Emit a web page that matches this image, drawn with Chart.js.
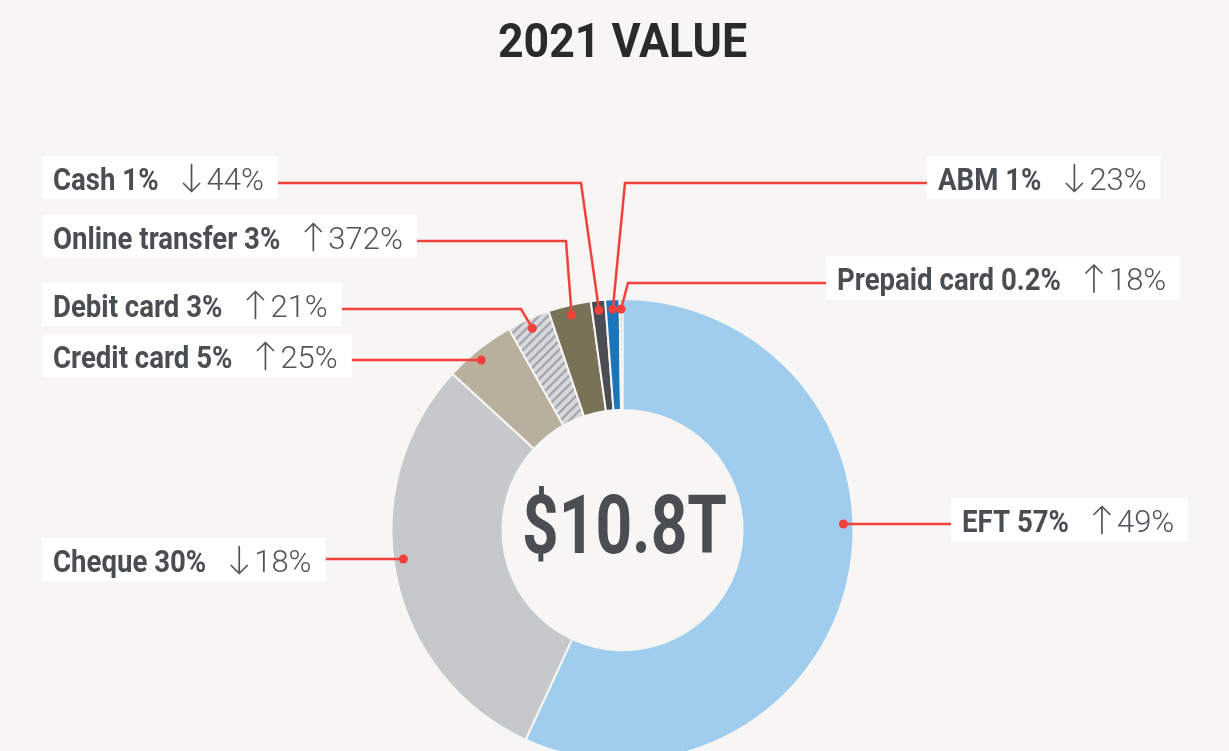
<!DOCTYPE html>
<html>
<head>
<meta charset="utf-8">
<script src="https://cdn.jsdelivr.net/npm/chart.js@4.4.1/dist/chart.umd.min.js"></script>
<style>
html, body { margin: 0; padding: 0; width: 1229px; height: 751px; overflow: hidden; background: #f7f6f4; }
#wrap { width: 1229px; height: 800px; }
</style>
</head>
<body>
<div id="wrap"><canvas id="valueChart" width="1229" height="800"></canvas></div>
<script>
// 2021 value share by payment type, and change vs previous period
const categories = ['EFT', 'Cheque', 'Credit card', 'Debit card', 'Online transfer', 'Cash', 'ABM', 'Prepaid card'];
const shares = [57, 30, 5, 3, 3, 1, 1, 0.2];
const changes = [49, -18, 25, 21, 372, -44, -23, 18];
const totalLabel = '$10.8T';
const titleText = '2021 VALUE';

const BG = '#f7f6f4';
const TEXT = '#4a4d52';
const RED = '#f2413a';

// where each callout box sits (textX = start of text, boxY = box middle, lineY = leader line)
const labelLayout = [
    { side: 'right', textX: 962, boxY: 519.5, lineY: 524 },
    { side: 'left', textX: 53, boxY: 559.5, lineY: 559 },
    { side: 'left', textX: 53, boxY: 355.5, lineY: 360 },
    { side: 'left', textX: 53, boxY: 304.5, lineY: 309, elbowX: 521 },
    { side: 'left', textX: 53, boxY: 236.5, lineY: 241, elbowX: 566 },
    { side: 'left', textX: 53, boxY: 177.5, lineY: 183, elbowX: 581 },
    { side: 'right', textX: 938, boxY: 177.5, lineY: 183, elbowX: 625 },
    { side: 'right', textX: 837, boxY: 278, lineY: 283, elbowX: 628 }
];

function stripePattern() {
    const c = document.createElement('canvas');
    c.width = 9; c.height = 9;
    const g = c.getContext('2d');
    g.fillStyle = '#d8dadd';
    g.fillRect(0, 0, 9, 9);
    g.strokeStyle = '#a6a9ad';
    g.lineWidth = 2.6;
    g.beginPath();
    g.moveTo(-2, 11); g.lineTo(11, -2);
    g.moveTo(-2, 2); g.lineTo(2, -2);
    g.moveTo(7, 11); g.lineTo(11, 7);
    g.stroke();
    return g.createPattern(c, 'repeat');
}

function dashPattern() {
    const c = document.createElement('canvas');
    c.width = 4; c.height = 6;
    const g = c.getContext('2d');
    g.fillStyle = '#e4e5e6';
    g.fillRect(0, 0, 4, 6);
    g.fillStyle = '#9fa2a6';
    g.fillRect(0, 0, 4, 3);
    return g.createPattern(c, 'repeat');
}

// thin arrow like the light-weight glyph in the original
function drawArrow(c, x, baseline, up) {
    const w = 16, top = baseline - 25, bot = baseline + 2;
    const cx = x + w / 2;
    c.save();
    c.strokeStyle = '#505358';
    c.lineWidth = 1.7;
    c.lineCap = 'round';
    c.lineJoin = 'round';
    c.beginPath();
    c.moveTo(cx, top);
    c.lineTo(cx, bot);
    if (up) {
        c.moveTo(x, top + 8); c.lineTo(cx, top); c.lineTo(x + w, top + 8);
    } else {
        c.moveTo(x, bot - 8); c.lineTo(cx, bot); c.lineTo(x + w, bot - 8);
    }
    c.stroke();
    c.restore();
}

const ctx = document.getElementById('valueChart').getContext('2d');

const colors = ['#a0cdee', '#c6c9cc', '#b8b09c', stripePattern(), '#7a7257', '#4a4d52', '#1b75bb', dashPattern()];

const calloutPlugin = {
    id: 'callouts',
    afterDraw(chart) {
        const c = chart.ctx;
        const meta = chart.getDatasetMeta(0);
        const condense = 0.89;

        c.save();
        // title
        c.fillStyle = '#2a2a2a';
        c.font = 'bold 49px Roboto';
        c.textBaseline = 'alphabetic';
        const tw = c.measureText(titleText).width;
        const ts = 249 / tw;
        c.save();
        c.translate(622.5 - 249 / 2, 57);
        c.scale(ts, 1);
        c.fillText(titleText, 0, 0);
        c.restore();

        // centre total
        const arc0 = meta.data[0];
        c.fillStyle = TEXT;
        c.font = 'bold 82px Roboto';
        const cs = 205 / c.measureText(totalLabel).width;
        c.save();
        c.translate(arc0.x + 2 - 205 / 2, 553);
        c.scale(cs, 1);
        c.fillText(totalLabel, 0, 0);
        c.restore();

        meta.data.forEach((arc, i) => {
            const lay = labelLayout[i];
            const bold = categories[i] + ' ' + shares[i] + '%';
            const digits = Math.abs(changes[i]) + '%';

            c.font = 'bold 31px Roboto';
            const bw = c.measureText(bold).width * condense;
            c.font = '300 31px Roboto';
            const dw = c.measureText(digits).width;
            const gap = 25;
            const lw = 16 + 7 + dw;
            const boxX = lay.textX - 11;
            const boxW = 11 + bw + gap + lw + 14;
            const boxTop = lay.boxY - 21.5;

            // dot position on the ring
            const r = arc.outerRadius - 10;
            let dot = null;
            const dy = lay.lineY - arc.y;
            if (Math.abs(dy) < r) {
                const dx = Math.sqrt(r * r - dy * dy) * (lay.side === 'left' ? -1 : 1);
                let a = Math.atan2(dy, dx);
                while (a < arc.startAngle) a += Math.PI * 2;
                if (a <= arc.endAngle) dot = { x: arc.x + dx, y: lay.lineY, direct: true };
            }
            if (!dot) {
                const mid = (arc.startAngle + arc.endAngle) / 2;
                dot = { x: arc.x + r * Math.cos(mid), y: arc.y + r * Math.sin(mid), direct: false };
            }

            // leader line
            const startX = lay.side === 'left' ? boxX + boxW : boxX;
            c.strokeStyle = RED;
            c.lineWidth = 2.5;
            c.beginPath();
            c.moveTo(startX, lay.lineY);
            if (!dot.direct && lay.elbowX !== undefined) {
                c.lineTo(lay.elbowX, lay.lineY);
            }
            c.lineTo(dot.x, dot.y);
            c.stroke();

            c.fillStyle = RED;
            c.beginPath();
            c.arc(dot.x, dot.y, 4.5, 0, Math.PI * 2);
            c.fill();

            // label box
            c.fillStyle = '#ffffff';
            c.fillRect(boxX, boxTop, boxW, 43);

            const baseline = lay.boxY + 12;
            c.fillStyle = TEXT;
            c.font = 'bold 31px Roboto';
            c.save();
            c.translate(lay.textX, baseline);
            c.scale(condense, 1);
            c.fillText(bold, 0, 0);
            c.restore();

            const ax = lay.textX + bw + gap;
            drawArrow(c, ax, baseline, changes[i] > 0);
            c.fillStyle = '#505358';
            c.font = '300 31px Roboto';
            c.fillText(digits, ax + 23, baseline);
        });
        c.restore();
    }
};

new Chart(ctx, {
    type: 'doughnut',
    data: {
        labels: categories,
        datasets: [{
            data: shares,
            backgroundColor: colors,
            borderColor: BG,
            borderWidth: 2,
            hoverOffset: 0
        }]
    },
    options: {
        responsive: false,
        animation: false,
        cutout: '52%',
        layout: {
            padding: { top: 298, bottom: 38, left: 16, right: 0 }
        },
        plugins: {
            legend: { display: false },
            tooltip: { enabled: false },
            title: { display: false }
        }
    },
    plugins: [calloutPlugin]
});
</script>
</body>
</html>
